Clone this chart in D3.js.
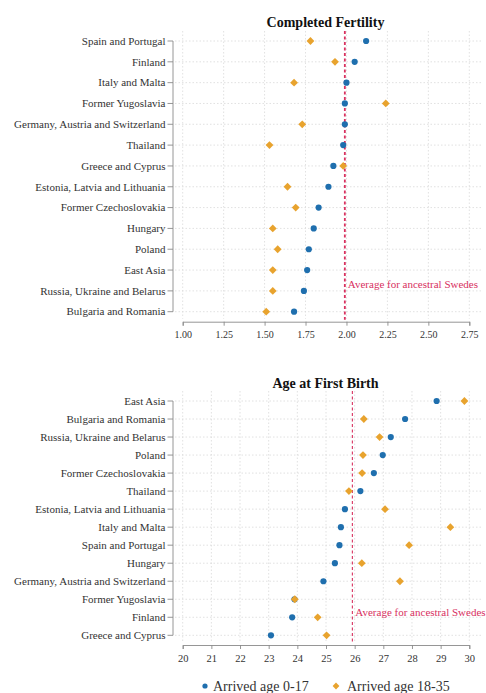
<!DOCTYPE html>
<html>
<head>
<meta charset="utf-8">
<script src="https://cdn.jsdelivr.net/npm/d3@7"></script>
<style>
  body { margin: 0; background: #fff; }
  svg { display: block; }
  text { font-family: "Liberation Serif", "DejaVu Serif", serif; }
</style>
</head>
<body>
<svg id="chart" width="486" height="693"></svg>
<script>
// Completed fertility panel (top)
const fertCountries = ["Spain and Portugal", "Finland", "Italy and Malta", "Former Yugoslavia",
  "Germany, Austria and Switzerland", "Thailand", "Greece and Cyprus", "Estonia, Latvia and Lithuania",
  "Former Czechoslovakia", "Hungary", "Poland", "East Asia", "Russia, Ukraine and Belarus", "Bulgaria and Romania"];
const fertYoung = [2.12, 2.05, 2.00, 1.99, 1.99, 1.98, 1.92, 1.89, 1.83, 1.80, 1.77, 1.76, 1.74, 1.68];
const fertOld   = [1.78, 1.93, 1.68, 2.24, 1.73, 1.53, 1.98, 1.64, 1.69, 1.55, 1.58, 1.55, 1.55, 1.51];
const fertTicks = [1.00, 1.25, 1.50, 1.75, 2.00, 2.25, 2.50, 2.75];
const fertAvg = 1.99;

// Age at first birth panel (bottom)
const ageCountries = ["East Asia", "Bulgaria and Romania", "Russia, Ukraine and Belarus", "Poland",
  "Former Czechoslovakia", "Thailand", "Estonia, Latvia and Lithuania", "Italy and Malta",
  "Spain and Portugal", "Hungary", "Germany, Austria and Switzerland", "Former Yugoslavia",
  "Finland", "Greece and Cyprus"];
const ageYoung = [28.86, 27.76, 27.26, 26.98, 26.67, 26.20, 25.66, 25.52, 25.47, 25.31, 24.91, 23.90, 23.82, 23.08];
const ageOld   = [29.83, 26.32, 26.87, 26.29, 26.26, 25.80, 27.06, 29.34, 27.90, 26.25, 27.58, 23.91, 24.71, 25.02];
const ageTicks = [20, 21, 22, 23, 24, 25, 26, 27, 28, 29, 30];
const ageAvg = 25.92;

const legendLabels = ["Arrived age 0-17", "Arrived age 18-35"];

const blue = "#1f6fae", orange = "#e8a32e", red = "#d8315f", grid = "#d9d9d9", axisCol = "#8a8a8a";

const svg = d3.select("#chart");

function diamond(r) {
  return `M0,${-r}L${r},0L0,${r}L${-r},0Z`;
}

function panel(opt) {
  const g = svg.append("g");
  const x = d3.scaleLinear().domain(opt.domain).range([182.7, 469.3]);
  const y = d3.scalePoint().domain(opt.countries).range([opt.yTop, opt.yBottom]);

  // vertical grid
  g.selectAll(".vgrid").data(opt.ticks).join("line")
    .attr("x1", d => x(d)).attr("x2", d => x(d))
    .attr("y1", opt.yTop - 10).attr("y2", opt.yBottom + 7)
    .attr("stroke", grid).attr("stroke-width", 0.8).attr("stroke-dasharray", "1.5,2");

  // horizontal grid
  g.selectAll(".hgrid").data(opt.countries).join("line")
    .attr("x1", 175).attr("x2", 481)
    .attr("y1", d => y(d)).attr("y2", d => y(d))
    .attr("stroke", grid).attr("stroke-width", 0.8).attr("stroke-dasharray", "1.5,2");

  // y axis (offset, line spans first to last row)
  g.append("line").attr("x1", 173).attr("x2", 173)
    .attr("y1", opt.yTop).attr("y2", opt.yBottom)
    .attr("stroke", axisCol).attr("stroke-width", 0.9);
  g.selectAll(".ytick").data(opt.countries).join("line")
    .attr("x1", 167.5).attr("x2", 173)
    .attr("y1", d => y(d)).attr("y2", d => y(d))
    .attr("stroke", axisCol).attr("stroke-width", 0.9);
  g.selectAll(".ylab").data(opt.countries).join("text")
    .attr("x", 165.5).attr("y", d => y(d)).attr("dy", "0.34em")
    .attr("text-anchor", "end").attr("font-size", 11).attr("fill", "#333")
    .text(d => d);

  // x axis
  const xa = g.append("g").attr("transform", `translate(0,${opt.axisY})`)
    .call(d3.axisBottom(x).tickValues(opt.ticks).tickSize(4).tickFormat(opt.fmt));
  xa.select(".domain").attr("stroke", axisCol).attr("stroke-width", 0.9);
  xa.selectAll(".tick line").attr("stroke", axisCol).attr("stroke-width", 0.9);
  xa.selectAll(".tick text").attr("font-family", "Liberation Serif, serif")
    .attr("font-size", opt.tickSize).attr("fill", "#333").attr("dy", "0.95em");

  // reference line
  g.append("line")
    .attr("x1", x(opt.avg)).attr("x2", x(opt.avg))
    .attr("y1", opt.yTop - 10).attr("y2", opt.axisY - 2)
    .attr("stroke", red).attr("stroke-width", opt.avgWidth).attr("stroke-dasharray", "3,2.5");
  g.append("text").attr("x", x(opt.avg) + 3).attr("y", opt.noteY)
    .attr("font-size", 11).attr("fill", red).text("Average for ancestral Swedes");

  // markers
  g.selectAll(".young").data(opt.countries).join("circle")
    .attr("cx", (d, i) => x(opt.young[i])).attr("cy", d => y(d))
    .attr("r", 3.1).attr("fill", blue);
  g.selectAll(".old").data(opt.countries).join("path")
    .attr("d", diamond(3.9))
    .attr("transform", (d, i) => `translate(${x(opt.old[i])},${y(d)})`)
    .attr("fill", orange);

  // title
  g.append("text").attr("x", 325.5).attr("y", opt.titleY)
    .attr("text-anchor", "middle").attr("font-size", 14).attr("font-weight", "bold")
    .attr("fill", "#111").text(opt.title);
}

panel({
  title: "Completed Fertility", titleY: 27,
  countries: fertCountries, young: fertYoung, old: fertOld,
  domain: [1, 2.75], ticks: fertTicks, fmt: d3.format(".2f"), tickSize: 10,
  avg: fertAvg, avgWidth: 1.8,
  yTop: 41, yBottom: 311.7, axisY: 321.7, noteY: 288
});

panel({
  title: "Age at First Birth", titleY: 388,
  countries: ageCountries, young: ageYoung, old: ageOld,
  domain: [20, 30], ticks: ageTicks, fmt: d3.format("d"), tickSize: 10.5,
  avg: ageAvg, avgWidth: 1.1,
  yTop: 401, yBottom: 635.3, axisY: 645, noteY: 615.5
});

// legend
const leg = svg.append("g").attr("transform", "translate(0,686)");
leg.append("circle").attr("cx", 205).attr("cy", 0).attr("r", 2.6).attr("fill", blue);
leg.append("text").attr("x", 213).attr("y", 0).attr("dy", "0.34em")
  .attr("font-size", 14).attr("fill", "#333").text(legendLabels[0]);
leg.append("path").attr("d", diamond(3.4)).attr("transform", "translate(336,0)").attr("fill", orange);
leg.append("text").attr("x", 347).attr("y", 0).attr("dy", "0.34em")
  .attr("font-size", 14).attr("fill", "#333").text(legendLabels[1]);
</script>
</body>
</html>
